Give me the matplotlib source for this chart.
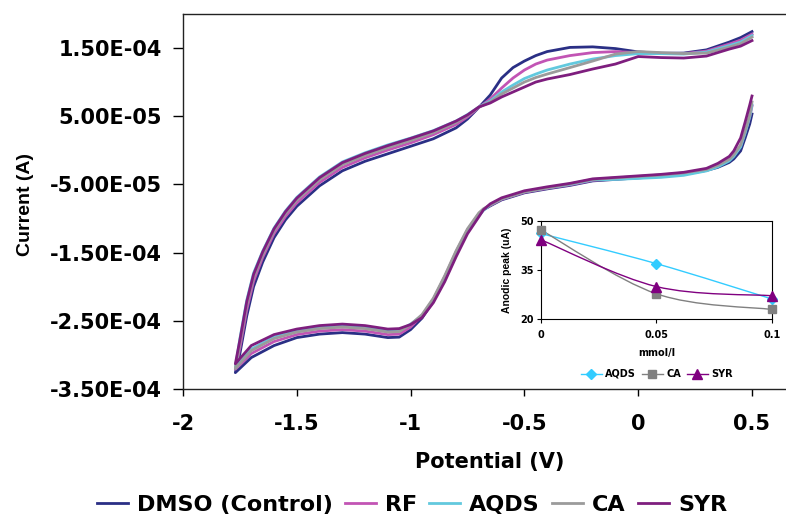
#!/usr/bin/env python3
"""Cyclic voltammograms with an inset of anodic peak current vs. mediator concentration."""

import numpy as np
import matplotlib
matplotlib.use("Agg")
import matplotlib.pyplot as plt
from matplotlib.lines import Line2D
from matplotlib.path import Path
from matplotlib.patches import PathPatch
from matplotlib.ticker import FuncFormatter, FixedLocator

plt.rcParams["axes.unicode_minus"] = False

# =============================================================================
# Data (currents in units of 1e-4 A)
# =============================================================================

SERIES = ["DMSO (Control)", "RF", "AQDS", "CA", "SYR"]
COLORS = ["#2A2F85", "#C254B4", "#62C9DE", "#9B9B9B", "#7E1E7E"]

# forward (anodic) sweep
v_fwd = [-1.77, -1.75, -1.72, -1.69, -1.65, -1.60, -1.55, -1.50, -1.40, -1.30,
         -1.20, -1.10, -1.00, -0.90, -0.80, -0.75, -0.70, -0.65, -0.60, -0.55,
         -0.50, -0.45, -0.40, -0.30, -0.20, -0.10, 0.00, 0.10, 0.20, 0.30,
         0.40, 0.45, 0.50]

i_fwd_dmso = [-3.26, -2.98, -2.43, -2.00, -1.64, -1.28, -1.02, -0.82, -0.52, -0.30,
              -0.16, -0.05, 0.06, 0.17, 0.33, 0.46, 0.63, 0.812, 1.061, 1.214,
              1.310, 1.390, 1.449, 1.510, 1.518, 1.493, 1.444, 1.424, 1.427, 1.474,
              1.588, 1.654, 1.742]
i_fwd_rf = [-3.21, -2.90, -2.34, -1.92, -1.57, -1.22, -0.97, -0.77, -0.47, -0.25,
            -0.11, 0.005, 0.11, 0.23, 0.38, 0.49, 0.63, 0.753, 0.914, 1.061,
            1.178, 1.266, 1.324, 1.390, 1.434, 1.449, 1.434, 1.419, 1.419, 1.456,
            1.559, 1.617, 1.705]
i_fwd_aqds = [-3.19, -2.76, -2.20, -1.80, -1.48, -1.14, -0.89, -0.69, -0.39, -0.17,
              -0.035, 0.08, 0.18, 0.29, 0.43, 0.525, 0.636, 0.724, 0.856, 0.958,
              1.053, 1.119, 1.178, 1.266, 1.339, 1.390, 1.419, 1.419, 1.412, 1.441,
              1.537, 1.588, 1.683]
i_fwd_ca = [-3.20, -2.83, -2.27, -1.86, -1.53, -1.18, -0.93, -0.73, -0.43, -0.21,
            -0.075, 0.04, 0.145, 0.26, 0.41, 0.51, 0.635, 0.709, 0.827, 0.914,
            1.002, 1.068, 1.119, 1.214, 1.310, 1.412, 1.449, 1.434, 1.419, 1.427,
            1.515, 1.566, 1.661]
i_fwd_syr = [-3.13, -2.78, -2.22, -1.82, -1.49, -1.15, -0.90, -0.70, -0.40, -0.18,
             -0.045, 0.07, 0.175, 0.285, 0.43, 0.52, 0.636, 0.695, 0.783, 0.856,
             0.929, 1.002, 1.046, 1.112, 1.193, 1.266, 1.376, 1.361, 1.354, 1.383,
             1.485, 1.529, 1.610]

# reverse (cathodic) sweep
v_rev = [0.50, 0.49, 0.47, 0.45, 0.42, 0.40, 0.35, 0.30, 0.20, 0.10,
         0.00, -0.10, -0.20, -0.30, -0.40, -0.50, -0.55, -0.60, -0.65, -0.68,
         -0.70, -0.75, -0.80, -0.85, -0.90, -0.95, -1.00, -1.05, -1.10, -1.20,
         -1.30, -1.40, -1.50, -1.60, -1.70, -1.77]

i_rev_dmso = [0.533, 0.387, 0.183, -0.008, -0.126, -0.177, -0.249, -0.294, -0.352, -0.382,
              -0.404, -0.426, -0.448, -0.514, -0.565, -0.623, -0.675, -0.726, -0.814, -0.872,
              -0.945, -1.179, -1.508, -1.882, -2.212, -2.461, -2.629, -2.739, -2.746, -2.695,
              -2.673, -2.695, -2.746, -2.863, -3.039, -3.26]
i_rev_rf = [0.650, 0.490, 0.270, 0.065, -0.067, -0.133, -0.220, -0.286, -0.344, -0.374,
            -0.396, -0.418, -0.440, -0.506, -0.557, -0.615, -0.667, -0.718, -0.806, -0.865,
            -0.930, -1.164, -1.486, -1.852, -2.183, -2.424, -2.592, -2.695, -2.702, -2.651,
            -2.629, -2.651, -2.702, -2.804, -2.980, -3.21]
i_rev_aqds = [0.665, 0.490, 0.256, 0.051, -0.089, -0.155, -0.242, -0.301, -0.366, -0.396,
              -0.411, -0.426, -0.433, -0.499, -0.550, -0.608, -0.660, -0.711, -0.799, -0.879,
              -0.960, -1.201, -1.530, -1.896, -2.212, -2.424, -2.548, -2.644, -2.651, -2.600,
              -2.578, -2.600, -2.651, -2.738, -2.914, -3.19]
i_rev_ca = [0.709, 0.519, 0.285, 0.080, -0.067, -0.133, -0.220, -0.279, -0.330, -0.360,
            -0.382, -0.404, -0.426, -0.492, -0.550, -0.608, -0.660, -0.711, -0.799, -0.857,
            -0.916, -1.150, -1.472, -1.838, -2.168, -2.409, -2.555, -2.658, -2.665, -2.614,
            -2.592, -2.614, -2.665, -2.760, -2.936, -3.20]
i_rev_syr = [0.797, 0.665, 0.417, 0.182, -0.008, -0.089, -0.191, -0.264, -0.322, -0.352,
             -0.374, -0.396, -0.418, -0.484, -0.535, -0.593, -0.645, -0.696, -0.784, -0.872,
             -0.974, -1.223, -1.560, -1.926, -2.234, -2.453, -2.555, -2.614, -2.621, -2.570,
             -2.548, -2.570, -2.621, -2.702, -2.863, -3.13]

I_FWD = [i_fwd_dmso, i_fwd_rf, i_fwd_aqds, i_fwd_ca, i_fwd_syr]
I_REV = [i_rev_dmso, i_rev_rf, i_rev_aqds, i_rev_ca, i_rev_syr]
CURRENT_UNIT = 1e-4

# inset: anodic peak (uA) vs concentration (mmol/l)
conc = [0.0, 0.05, 0.1]
peak_aqds = [46.1, 36.9, 26.1]
peak_ca = [47.2, 27.7, 22.9]
peak_syr = [44.2, 29.9, 27.1]

INSET_SERIES = ["AQDS", "CA", "SYR"]
INSET_COLORS = ["#33CCFF", "#808080", "#800080"]
INSET_MARKERS = ["D", "s", "^"]
INSET_SIZES = [5.0, 6.0, 6.5]

# =============================================================================
# Helpers
# =============================================================================


def smooth_path(x, y):
    """Excel-style smoothed line through the points as cubic Bezier segments."""
    n = len(x)
    verts = [(x[0], y[0])]
    codes = [Path.MOVETO]
    for i in range(n - 1):
        a = max(i - 1, 0)
        b = min(i + 2, n - 1)
        c1 = (x[i] + (x[i + 1] - x[a]) / 6.0, y[i] + (y[i + 1] - y[a]) / 6.0)
        c2 = (x[i + 1] - (x[b] - x[i]) / 6.0, y[i + 1] - (y[b] - y[i]) / 6.0)
        verts += [c1, c2, (x[i + 1], y[i + 1])]
        codes += [Path.CURVE4] * 3
    return Path(verts, codes)


# =============================================================================
# Figure
# =============================================================================

W, H = 786, 520
fig = plt.figure(figsize=(W / 100, H / 100), dpi=100)

BOLD = dict(family="DejaVu Sans", weight="bold")

ax = fig.add_axes([183 / W, 131 / H, (W - 183) / W, 375 / H])

for name, color, i_f, i_r in zip(SERIES, COLORS, I_FWD, I_REV):
    v = np.concatenate([v_rev, v_fwd])
    cur = np.concatenate([i_r, i_f]) * CURRENT_UNIT
    ax.plot(v, cur, color=color, lw=2.0, label=name, solid_joinstyle="round")

ax.set_xlim(-2.0, -2.0 + (W - 183) / 227.6)
ax.set_ylim(-3.5e-4, 2.0e-4)
ax.xaxis.set_major_locator(FixedLocator([-2, -1.5, -1, -0.5, 0, 0.5]))
ax.yaxis.set_major_locator(FixedLocator([-3.5e-4, -2.5e-4, -1.5e-4, -0.5e-4, 0.5e-4, 1.5e-4]))
ax.xaxis.set_major_formatter(FuncFormatter(lambda v, _: f"{v:g}"))
ax.yaxis.set_major_formatter(FuncFormatter(lambda v, _: f"{v:.2E}"))

ax.tick_params(axis="x", direction="out", length=5, width=1, pad=13, labelsize=15)
ax.tick_params(axis="y", direction="out", length=7, width=1, pad=8, labelsize=15)
for lab in ax.get_xticklabels() + ax.get_yticklabels():
    lab.set_fontweight("bold")

for side in ["left", "bottom", "top"]:
    ax.spines[side].set_color("#222222")
    ax.spines[side].set_linewidth(1.0)
ax.spines["right"].set_visible(False)

ax.set_xlabel("Potential (V)", fontsize=15, labelpad=12, **BOLD)
ax.xaxis.set_label_coords((489.5 - 183) / (W - 183), -(462 - 389) / 375)
ax.xaxis.label.set_va("center")
ax.set_ylabel("Current (A)", fontsize=14, family="Liberation Sans", weight="bold")
ax.yaxis.set_label_coords((25 - 183) / (W - 183), (389 - 205) / 375)
ax.yaxis.label.set_va("center")

fig.legend(
    loc="center",
    bbox_to_anchor=(412 / W, 15 / H),
    ncol=5,
    frameon=False,
    prop=dict(family="DejaVu Sans", weight="bold", size=16),
    handlelength=1.4,
    handletextpad=0.4,
    columnspacing=0.55,
)

# ---------------------------------------------------------------- inset
ins = fig.add_axes([540.7 / W, (H - 319) / H, 231.3 / W, 98.3 / H])
for name, color, marker, ms, peaks in zip(
    INSET_SERIES, INSET_COLORS, INSET_MARKERS, INSET_SIZES,
    [peak_aqds, peak_ca, peak_syr],
):
    ins.add_patch(PathPatch(smooth_path(conc, peaks), fill=False,
                            edgecolor=color, lw=1.0, zorder=2))
    ins.plot(conc, peaks, ls="none", marker=marker, ms=ms, color=color,
             clip_on=False, zorder=3)

ins.set_xlim(0, 0.1)
ins.set_ylim(20, 50)
ins.set_xticks([0, 0.05, 0.1])
ins.set_yticks([20, 35, 50])
ins.xaxis.set_major_formatter(FuncFormatter(lambda v, _: f"{v:g}"))
ins.tick_params(axis="both", direction="out", length=3, width=0.8, labelsize=7)
ins.tick_params(axis="x", pad=5)
ins.tick_params(axis="y", pad=2)
for lab in ins.get_xticklabels() + ins.get_yticklabels():
    lab.set_fontweight("bold")
for sp in ins.spines.values():
    sp.set_color("black")
    sp.set_linewidth(0.8)

ins.set_xlabel("mmol/l", fontsize=7, labelpad=6, **BOLD)
ins.set_ylabel("Anodic peak (uA)", fontsize=7.5, family="Liberation Sans", weight="bold")
ins.yaxis.set_label_coords((507 - 540.7) / 231.3, 0.5)
ins.yaxis.label.set_va("center")

inset_handles = [
    Line2D([], [], color=c, marker=m, ms=s, lw=1.0)
    for c, m, s in zip(INSET_COLORS, INSET_MARKERS, INSET_SIZES)
]
fig.legend(
    inset_handles,
    INSET_SERIES,
    loc="center",
    bbox_to_anchor=(656.7 / W, (H - 374) / H),
    ncol=3,
    frameon=False,
    prop=dict(family="DejaVu Sans", weight="bold", size=7),
    handlelength=2.2,
    handletextpad=0.3,
    columnspacing=0.6,
)

fig.savefig("out.png", dpi=100)
plt.close(fig)
